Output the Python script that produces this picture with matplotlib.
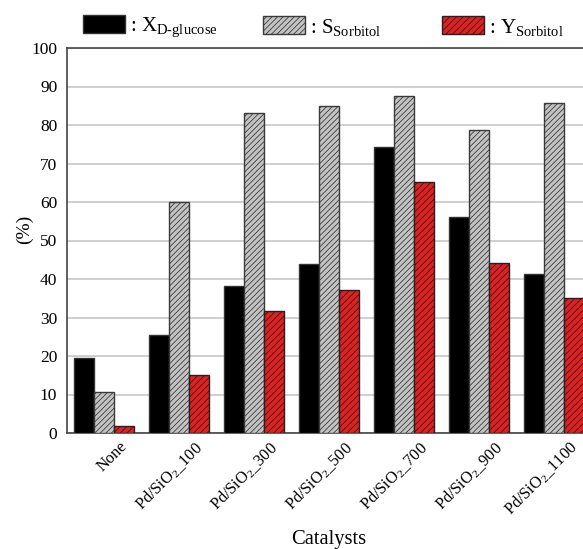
import numpy as np
import matplotlib
matplotlib.use("Agg")
import matplotlib.pyplot as plt
import matplotlib.transforms as mtransforms
from matplotlib.patches import Patch

plt.rcParams['font.family'] = 'Liberation Serif'
plt.rcParams['mathtext.fontset'] = 'custom'
plt.rcParams['mathtext.rm'] = 'Liberation Serif'
plt.rcParams['mathtext.it'] = 'Liberation Serif:italic'
plt.rcParams['hatch.linewidth'] = 0.6

catalysts = ["None", "Pd/SiO$_2$_100", "Pd/SiO$_2$_300", "Pd/SiO$_2$_500",
             "Pd/SiO$_2$_700", "Pd/SiO$_2$_900", "Pd/SiO$_2$_1100"]
x_glucose = [19.4, 25.4, 38.1, 43.9, 74.4, 56.1, 41.2]
s_sorbitol = [10.6, 60.1, 83.1, 85.0, 87.6, 78.6, 85.7]
y_sorbitol = [1.7, 15.1, 31.6, 37.2, 65.1, 44.1, 35.1]
yticks = list(range(0, 101, 10))

fig = plt.figure(figsize=(5.83, 5.49), dpi=100)
ax = fig.add_axes([67 / 583, 1 - 433 / 549, 524 / 583, 385 / 549])

x = np.arange(len(catalysts))
w = 0.267
ec = "#333333"
ax.bar(x - w, x_glucose, w, color="black", edgecolor=ec, linewidth=1, zorder=3)
ax.bar(x, s_sorbitol, w, color="#c4c4c4", edgecolor="#3a3a3a", hatch="//////",
       linewidth=1, zorder=3)
ax.bar(x + w, y_sorbitol, w, color="#e41f1f", edgecolor="#222222", hatch="/////",
       linewidth=1, zorder=3)

ax.set_xlim(-0.493, 6.493)
ax.set_ylim(0, 100)
ax.set_yticks(yticks)
ax.yaxis.grid(True, color="#cccccc", linewidth=1.3, zorder=0)
ax.set_axisbelow(True)
ax.tick_params(axis="y", length=0, labelsize=12.5, pad=7)
ax.tick_params(axis="x", length=0, labelsize=11.8, pad=4)
ax.set_xticks(x)
ax.set_xticklabels(catalysts, rotation=45, ha="right", rotation_mode="anchor")
# labels in the reference sit a bit to the right of each group centre
shift = mtransforms.ScaledTranslation(15 / 100, 0, fig.dpi_scale_trans)
for lab in ax.get_xticklabels():
    lab.set_transform(lab.get_transform() + shift)
for s in ax.spines.values():
    s.set_color("#444444")
    s.set_linewidth(1.2)

ax.set_ylabel("(%)", fontsize=14)
ax.yaxis.set_label_coords(-0.065, 0.53)
ax.set_xlabel("Catalysts", fontsize=14.8, labelpad=7.5)

handles = [
    Patch(facecolor="black", edgecolor=ec),
    Patch(facecolor="#c4c4c4", edgecolor="#3a3a3a", hatch="//////"),
    Patch(facecolor="#e41f1f", edgecolor="#222222", hatch="/////"),
]
labels = [r": X$_{\mathrm{D\text{-}glucose}}$", r": S$_{\mathrm{Sorbitol}}$",
          r": Y$_{\mathrm{Sorbitol}}$"]
for h, l, xpos in zip(handles, labels, [83, 263, 442]):
    fig.legend([h], [l], loc="center left",
               bbox_to_anchor=(xpos / 583, 1 - 27 / 549), frameon=False,
               fontsize=15, handlelength=2.0, handleheight=0.95,
               handletextpad=0.25, borderpad=0, borderaxespad=0)

fig.savefig("out.png", dpi=100)
